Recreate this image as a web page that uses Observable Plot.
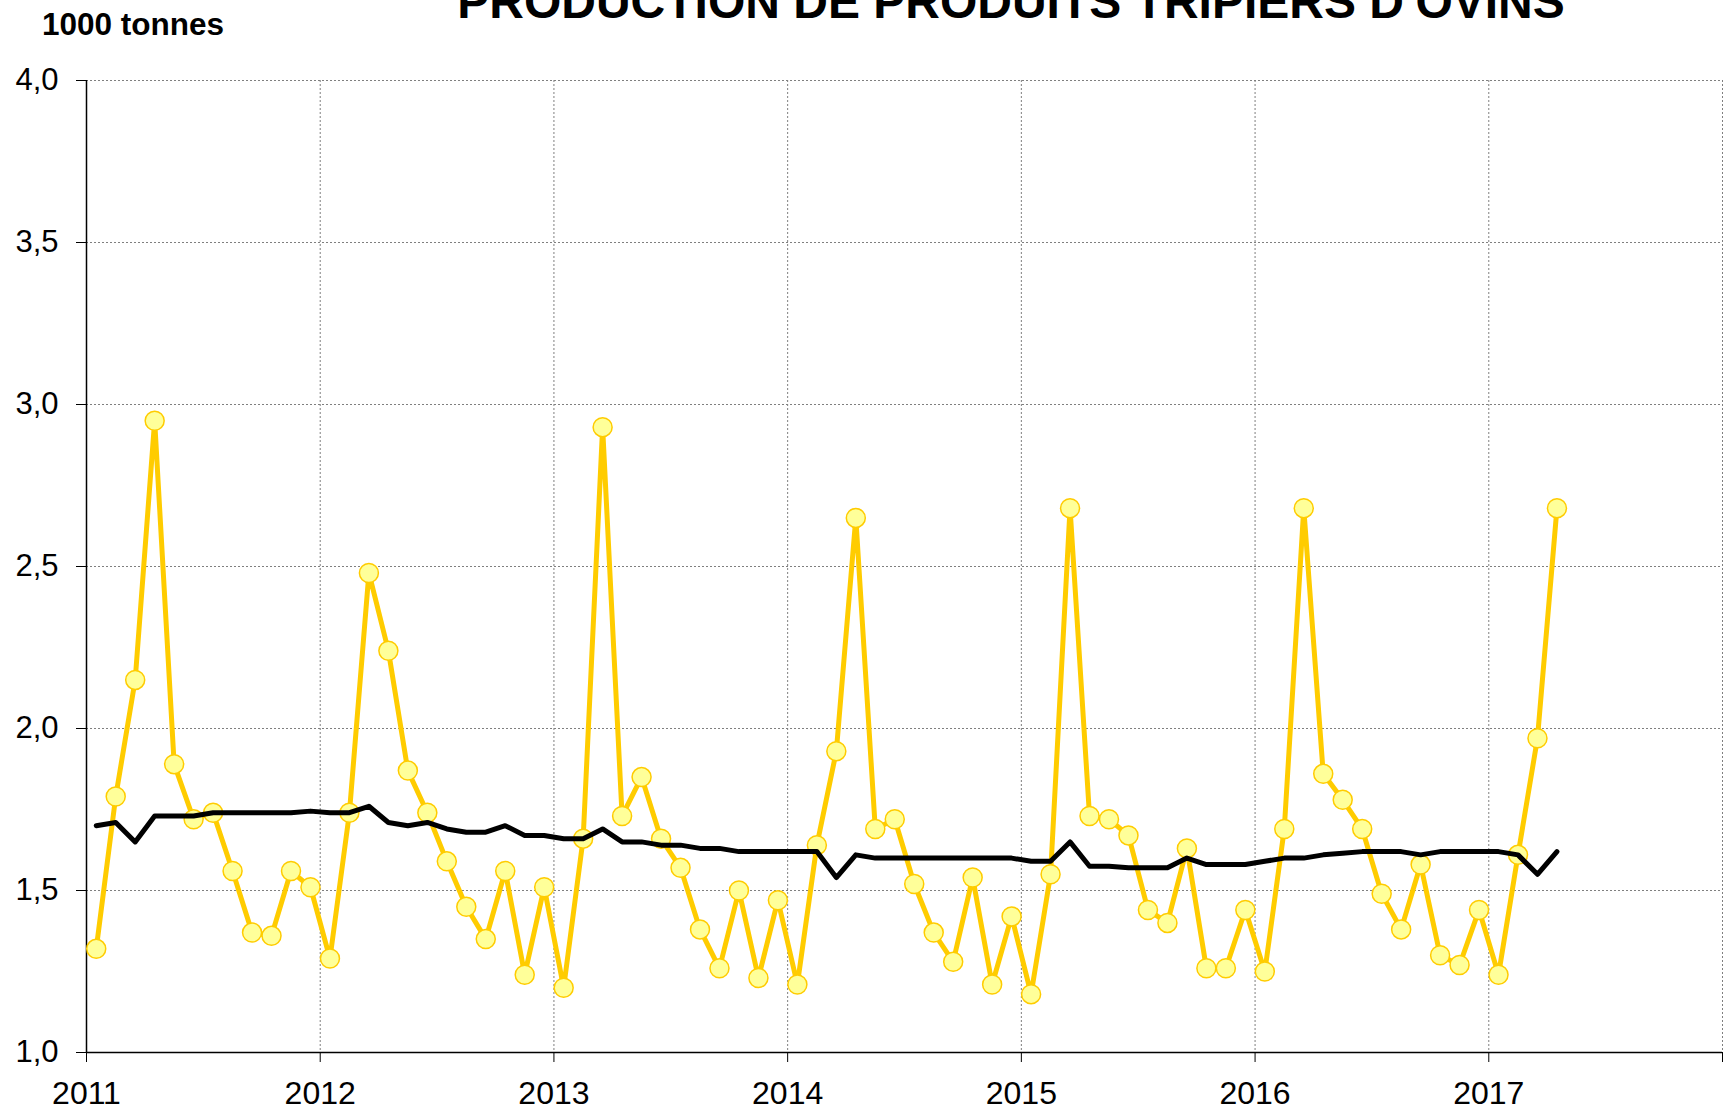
<!DOCTYPE html>
<html>
<head>
<meta charset="utf-8">
<script src="https://cdn.jsdelivr.net/npm/d3@7"></script>
<script src="https://cdn.jsdelivr.net/npm/@observablehq/plot@0.6"></script>
<style>
  html, body { margin: 0; padding: 0; background: #fff; overflow: hidden; }
  #wrap { position: relative; width: 1724px; height: 1109px; font-family: "Liberation Sans", Arial, sans-serif; }
  #header { position: relative; height: 60px; }
  #title { position: absolute; left: 1011px; top: -22px; transform: translateX(-50%); white-space: nowrap;
           font-size: 48px; line-height: 48px; font-weight: bold; color: #000; }
  #unit { position: absolute; left: 42px; top: 9px; font-size: 31.5px; line-height: 31.5px; font-weight: bold; color: #000; }
</style>
</head>
<body>
<div id="wrap">
  <div id="header">
    <div id="title">PRODUCTION DE PRODUITS TRIPIERS D'OVINS</div>
    <div id="unit">1000 tonnes</div>
  </div>
  <div id="chart"></div>
</div>
<script>
// Monthly production of sheep offal, 1000 tonnes (Jan 2011 – Apr 2017)
const production = [
  1.32, 1.79, 2.15, 2.95, 1.89, 1.72, 1.74, 1.56, 1.37, 1.36, 1.56, 1.51,
  1.29, 1.74, 2.48, 2.24, 1.87, 1.74, 1.59, 1.45, 1.35, 1.56, 1.24, 1.51,
  1.20, 1.66, 2.93, 1.73, 1.85, 1.66, 1.57, 1.38, 1.26, 1.50, 1.23, 1.47,
  1.21, 1.64, 1.93, 2.65, 1.69, 1.72, 1.52, 1.37, 1.28, 1.54, 1.21, 1.42,
  1.18, 1.55, 2.68, 1.73, 1.72, 1.67, 1.44, 1.40, 1.63, 1.26, 1.26, 1.44,
  1.25, 1.69, 2.68, 1.86, 1.78, 1.69, 1.49, 1.38, 1.58, 1.30, 1.27, 1.44,
  1.24, 1.61, 1.97, 2.68
];
// Trend (black line)
const trend = [
  1.70, 1.71, 1.65, 1.73, 1.73, 1.73, 1.74, 1.74, 1.74, 1.74, 1.74, 1.745,
  1.74, 1.74, 1.76, 1.71, 1.70, 1.71, 1.69, 1.68, 1.68, 1.70, 1.67, 1.67,
  1.66, 1.66, 1.69, 1.65, 1.65, 1.64, 1.64, 1.63, 1.63, 1.62, 1.62, 1.62,
  1.62, 1.62, 1.54, 1.61, 1.60, 1.60, 1.60, 1.60, 1.60, 1.60, 1.60, 1.60,
  1.59, 1.59, 1.65, 1.575, 1.575, 1.57, 1.57, 1.57, 1.60, 1.58, 1.58, 1.58,
  1.59, 1.60, 1.60, 1.61, 1.615, 1.62, 1.62, 1.62, 1.61, 1.62, 1.62, 1.62,
  1.62, 1.61, 1.55, 1.62
];
const startYear = 2011;
const yearTicks = [2011, 2012, 2013, 2014, 2015, 2016, 2017, 2018];
const valueTicks = [1.0, 1.5, 2.0, 2.5, 3.0, 3.5, 4.0];

// Month labels and their position (middle of the month) on the time axis
const months = production.map((_, i) => `${startYear + Math.floor(i / 12)}-${String(i % 12 + 1).padStart(2, "0")}`);
const data = months.map((m, i) => {
  const [yy, mm] = m.split("-").map(Number);
  return { month: m, t: yy + (mm - 0.5) / 12, production: production[i], trend: trend[i] };
});

const gridStyle = { stroke: "#7f7f7f", strokeOpacity: 1, strokeWidth: 1, strokeDasharray: "2,2" };

const chart = Plot.plot({
  width: 1724,
  height: 1049,
  marginTop: 20,
  marginBottom: 57,
  marginLeft: 86,
  marginRight: 2,
  style: { fontFamily: "'Liberation Sans', Arial, sans-serif", background: "#fff", overflow: "visible" },
  x: { domain: [2011, 2018] },
  y: { domain: [1, 4] },
  marks: [
    Plot.gridY(valueTicks.filter(v => v > 1), gridStyle),
    Plot.gridX(yearTicks.filter(v => v > 2011), gridStyle),
    Plot.axisY(valueTicks, {
      tickSize: 10, tickPadding: 18, fontSize: 31, stroke: "#000", color: "#000",
      tickFormat: d => d.toFixed(1).replace(".", ","), label: null
    }),
    Plot.axisX(yearTicks, {
      tickSize: 10, tickPadding: 19, fontSize: 32, stroke: "#000",
      tickFormat: d => d === 2018 ? "" : String(d), label: null
    }),
    Plot.ruleX([2011], { stroke: "#000", strokeWidth: 1.5 }),
    Plot.ruleY([1], { stroke: "#000", strokeWidth: 1.5 }),
    Plot.line(data, { x: "t", y: "production", stroke: "#FFCC00", strokeWidth: 5 }),
    Plot.dot(data, { x: "t", y: "production", r: 9.5, fill: "#FFFF99", stroke: "#FFCC00", strokeWidth: 1.5 }),
    Plot.line(data, { x: "t", y: "trend", stroke: "#000", strokeWidth: 5 })
  ]
});
document.getElementById("chart").appendChild(chart);
</script>
</body>
</html>
